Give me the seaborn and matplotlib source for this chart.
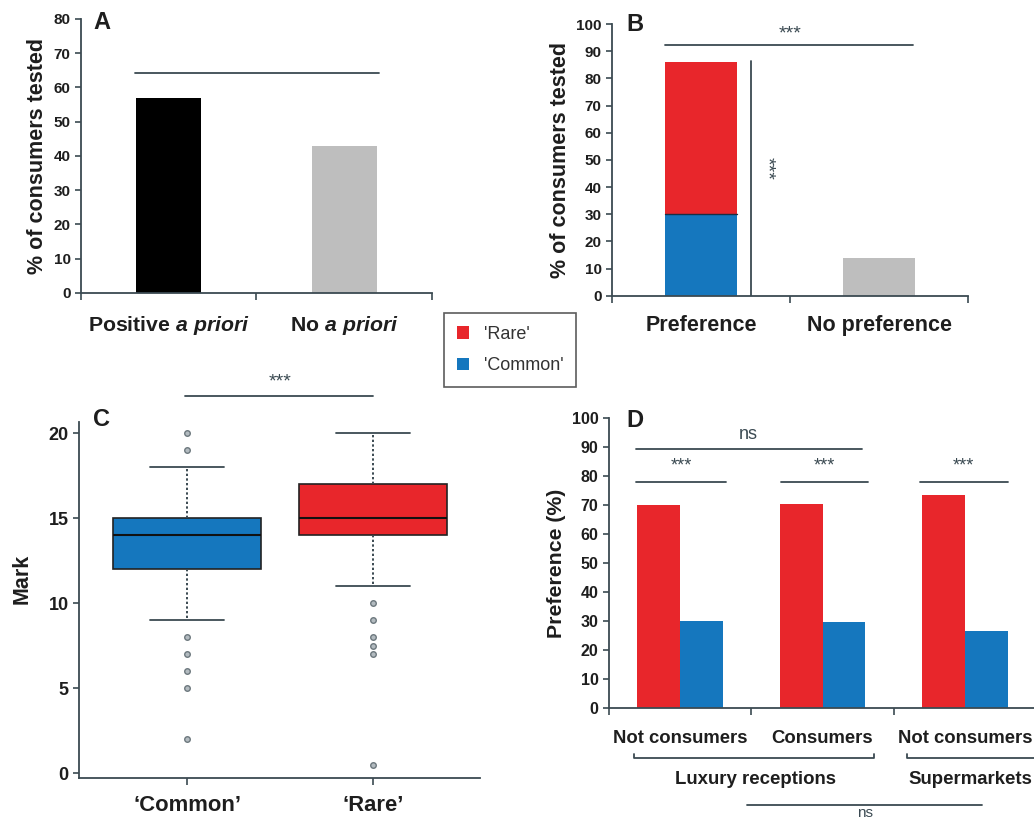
import numpy as np
import pandas as pd
import matplotlib
matplotlib.use("Agg")
import matplotlib.pyplot as plt
import matplotlib.transforms as mtransforms
from matplotlib.patches import Patch
import seaborn as sns

# data
a_cats = ["Positive a priori", "No a priori"]
a_values = [57, 43]
a_ticklabels = [r"Positive $\mathbfit{a\ priori}$", r"No $\mathbfit{a\ priori}$"]

b_cats = ["Preference", "No preference"]
b_rare = [56, 0]
b_common = [30, 0]
b_nopref = [0, 14]

c_cats = ["\u2018Common\u2019", "\u2018Rare\u2019"]
c_q1 = [12, 14]
c_med = [14, 15]
c_q3 = [15, 17]
c_whislo = [9, 11]
c_whishi = [18, 20]
c_fliers = [[20, 19, 8, 7, 6, 5, 2], [10, 9, 8, 7.5, 7, 0.5]]

d_groups = ["lux_not", "lux_cons", "sup_not"]
d_ticklabels = ["Not consumers", "Consumers", "Not consumers"]
d_rare = [70, 70.5, 73.5]
d_common = [30, 29.5, 26.5]

RED = "#E8262B"
BLUE = "#1577BE"
GRAY = "#BEBEBE"
LINE = "#3b4a52"
TXT = "#1e1e1e"

sns.set_style("ticks")
plt.rcParams["font.family"] = ["Liberation Sans", "DejaVu Sans"]
plt.rcParams["mathtext.fontset"] = "custom"
plt.rcParams["mathtext.rm"] = "Liberation Sans:bold"
plt.rcParams["mathtext.bf"] = "Liberation Sans:bold"
plt.rcParams["mathtext.it"] = "Liberation Sans:italic:bold"
plt.rcParams["mathtext.bfit"] = "Liberation Sans:italic:bold"

fig = plt.figure(figsize=(10.34, 8.22), dpi=100)
fig.patch.set_facecolor("white")
axA = fig.add_axes([0.0783, 0.6436, 0.3395, 0.3333])
axB = fig.add_axes([0.5919, 0.6403, 0.3443, 0.3305])
axC = fig.add_axes([0.0764, 0.0535, 0.3878, 0.4331])
axD = fig.add_axes([0.589, 0.1387, 0.413, 0.3528])


def style_axes(ax, ytick_size=11):
    for s in ["top", "right"]:
        ax.spines[s].set_visible(False)
    for s in ["left", "bottom"]:
        ax.spines[s].set_color(LINE)
        ax.spines[s].set_linewidth(1.3)
    ax.tick_params(axis="y", colors=LINE, labelcolor=TXT, labelsize=ytick_size,
                   length=4, width=1.2)
    for lab in ax.get_yticklabels():
        lab.set_fontweight("bold")
    ax.set_facecolor("white")


def category_axis(ax, n, labels, size, pad):
    ax.set_xlim(-0.5, n - 0.5)
    ax.set_xticks(np.arange(n))
    ax.set_xticklabels(labels, fontsize=size, fontweight="bold", color=TXT)
    ax.set_xticks(np.arange(n + 1) - 0.5, minor=True)
    ax.tick_params(axis="x", which="major", length=0, pad=pad)
    ax.tick_params(axis="x", which="minor", length=5, width=1.2, color=LINE)


# Panel A
sns.barplot(x=a_cats, y=a_values, hue=a_cats, palette=["black", GRAY],
            width=0.37, legend=False, ax=axA, saturation=1, linewidth=0)
axA.set_ylim(0, 80)
axA.set_yticks(range(0, 81, 10))
category_axis(axA, 2, a_ticklabels, 15.3, 15)
axA.set_ylabel("% of consumers tested", fontsize=15.5, fontweight="bold", color=TXT)
axA.plot([-0.19, 1.2], [64.3, 64.3], color=LINE, lw=1.3)
style_axes(axA)
axA.text(0.035, 1.03, "A", transform=axA.transAxes, fontsize=17,
         fontweight="bold", va="top", color=TXT)

# Panel B (stacked)
b_total = [r + c + n for r, c, n in zip(b_rare, b_common, b_nopref)]
sns.barplot(x=b_cats, y=b_total, hue=b_cats, palette=[RED, GRAY], width=0.40,
            legend=False, ax=axB, saturation=1, linewidth=0)
sns.barplot(x=b_cats, y=b_common, color=BLUE, width=0.40, ax=axB, saturation=1,
            linewidth=0)
blue_bar = axB.patches[-2]
axB.plot([blue_bar.get_x(), blue_bar.get_x() + blue_bar.get_width()],
         [blue_bar.get_height()] * 2, color="#1a2f45", lw=1.0)
axB.set_ylim(0, 100)
axB.set_yticks(range(0, 101, 10))
category_axis(axB, 2, b_cats, 15.5, 14)
axB.set_ylabel("% of consumers tested", fontsize=15.5, fontweight="bold", color=TXT)
axB.plot([-0.2, 1.19], [92.3, 92.3], color=LINE, lw=1.3, clip_on=False)
axB.text(0.5, 96.5, "***", ha="center", va="center", fontsize=14, color=LINE)
axB.plot([0.28, 0.28], [0, 86.5], color=LINE, lw=1.3)
axB.text(0.37, 47, "***", ha="center", va="center", fontsize=14, color=LINE,
         rotation=270)
style_axes(axB)
axB.text(0.04, 1.04, "B", transform=axB.transAxes, fontsize=17,
         fontweight="bold", va="top", color=TXT)

# Panel C (box plot from summary stats)
stats = []
for i in range(2):
    stats.append(dict(med=c_med[i], q1=c_q1[i], q3=c_q3[i], whislo=c_whislo[i],
                      whishi=c_whishi[i], fliers=c_fliers[i], label=c_cats[i]))
bp = axC.bxp(stats, positions=[1, 2], widths=0.8, capwidths=0.4, patch_artist=True,
             boxprops=dict(edgecolor="#222222", linewidth=1.2),
             medianprops=dict(color="#111111", linewidth=1.5),
             whiskerprops=dict(color=LINE, linestyle=(0, (1.2, 1.2)), linewidth=1.4),
             capprops=dict(color=LINE, linewidth=1.3),
             flierprops=dict(marker="o", markersize=4, markerfacecolor="#b3bbc0",
                             markeredgecolor="#6d787e", linestyle="none"))
for patch, col in zip(bp["boxes"], [BLUE, RED]):
    patch.set_facecolor(col)
axC.set_xlim(0.419, 2.575)
axC.set_ylim(-0.29, 20.65)
axC.set_yticks(range(0, 21, 5))
axC.set_xticks([1, 2])
axC.set_xticklabels(c_cats, fontsize=15.8, fontweight="bold", color=TXT)
axC.tick_params(axis="x", length=5, width=1.2, color=LINE, pad=7)
axC.set_ylabel("Mark", fontsize=15.5, fontweight="bold", color=TXT, labelpad=12)
axC.yaxis.set_label_coords(-0.115, 0.56)
axC.plot([0.99, 2.0], [22.2, 22.2], color=LINE, lw=1.3, clip_on=False)
axC.text(1.5, 23.0, "***", ha="center", va="center", fontsize=14, color=LINE)
style_axes(axC, ytick_size=13)
axC.text(0.035, 1.04, "C", transform=axC.transAxes, fontsize=17,
         fontweight="bold", va="top", color=TXT)

# Panel D
d_df = pd.DataFrame({
    "group": d_groups * 2,
    "variety": ["Rare"] * 3 + ["Common"] * 3,
    "pct": d_rare + d_common,
})
sns.barplot(data=d_df, x="group", y="pct", hue="variety", order=d_groups,
            palette={"Rare": RED, "Common": BLUE}, width=0.6, legend=False,
            ax=axD, saturation=1, linewidth=0)
axD.set_ylim(0, 100)
axD.set_yticks(range(0, 101, 10))
category_axis(axD, 3, d_ticklabels, 13.3, 16)
axD.set_xlabel("")
axD.set_ylabel("Preference (%)", fontsize=15.3, fontweight="bold", color=TXT)
for x0, x1 in [(-0.31, 0.32), (0.71, 1.32), (1.685, 2.30)]:
    axD.plot([x0, x1], [77.9, 77.9], color=LINE, lw=1.3)
    axD.text((x0 + x1) / 2, 83.3, "***", ha="center", va="center", fontsize=13,
             color=LINE)
axD.plot([-0.31, 1.28], [89.3, 89.3], color=LINE, lw=1.3)
axD.text(0.477, 94.3, "ns", ha="center", va="center", fontsize=13, color=LINE)

trD = mtransforms.blended_transform_factory(axD.transData, axD.transAxes)
for x0, x1 in [(-0.324, 1.362), (1.594, 2.6)]:
    axD.plot([x0, x0, x1, x1], [-0.16, -0.172, -0.172, -0.16], color=LINE, lw=1.3,
             transform=trD, clip_on=False)
axD.text(0.53, -0.248, "Luxury receptions", transform=trD, ha="center",
         va="center", fontsize=13.4, fontweight="bold", color=TXT)
axD.text(2.04, -0.248, "Supermarkets", transform=trD, ha="center",
         va="center", fontsize=13.4, fontweight="bold", color=TXT)
axD.plot([0.47, 2.12], [-0.334, -0.334], color=LINE, lw=1.3, transform=trD,
         clip_on=False)
axD.text(1.3, -0.339, "ns", transform=trD, ha="center", va="top", fontsize=11,
         color=LINE)
style_axes(axD, ytick_size=11.5)
axD.text(0.04, 1.03, "D", transform=axD.transAxes, fontsize=17,
         fontweight="bold", va="top", color=TXT)

# shared legend
handles = [Patch(facecolor=RED, edgecolor="none"), Patch(facecolor=BLUE, edgecolor="none")]
leg = fig.legend(handles, ["'Rare'", "'Common'"], loc="center",
                 bbox_to_anchor=(510 / 1034, 1 - 350 / 822), fontsize=13,
                 handlelength=0.7, handleheight=0.7, handletextpad=0.8,
                 labelspacing=0.8, borderpad=0.7, fancybox=False, frameon=True)
leg.get_frame().set_edgecolor("#333333")
leg.get_frame().set_linewidth(1.2)
for t in leg.get_texts():
    t.set_color("#333333")

fig.savefig("out.png", dpi=100)
